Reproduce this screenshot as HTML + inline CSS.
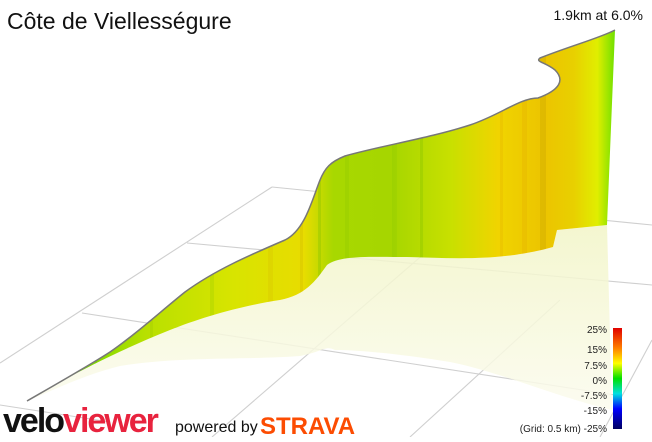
<!DOCTYPE html>
<html><head><meta charset="utf-8"><style>
body{margin:0;width:652px;height:437px;overflow:hidden;background:#fff;font-family:"Liberation Sans",sans-serif}
</style></head><body>
<svg width="652" height="437" viewBox="0 0 652 437" xmlns="http://www.w3.org/2000/svg">
<defs>
<linearGradient id="w" x1="28" y1="0" x2="615" y2="0" gradientUnits="userSpaceOnUse">
<stop offset="0" stop-color="#30d010"/>
<stop offset="0.08" stop-color="#70d800"/>
<stop offset="0.2" stop-color="#b8e000"/>
<stop offset="0.35" stop-color="#d8e400"/>
<stop offset="0.47" stop-color="#e8dc00"/>
<stop offset="0.52" stop-color="#a8d800"/>
<stop offset="0.62" stop-color="#a6d600"/>
<stop offset="0.72" stop-color="#c8e000"/>
<stop offset="0.8" stop-color="#f0d400"/>
<stop offset="0.88" stop-color="#ecc400"/>
<stop offset="0.93" stop-color="#e8d000"/>
<stop offset="0.97" stop-color="#e0ee00"/>
<stop offset="1" stop-color="#70e000"/>
</linearGradient>
<linearGradient id="r" x1="0" y1="230" x2="0" y2="410" gradientUnits="userSpaceOnUse">
<stop offset="0" stop-color="#f2f5c8"/>
<stop offset="1" stop-color="#fbfbee"/>
</linearGradient>
<linearGradient id="cb" x1="0" y1="0" x2="0" y2="1">
<stop offset="0" stop-color="#e00000"/>
<stop offset="0.2" stop-color="#ff8000"/>
<stop offset="0.35" stop-color="#ffff00"/>
<stop offset="0.5" stop-color="#00e000"/>
<stop offset="0.65" stop-color="#00e0e0"/>
<stop offset="0.8" stop-color="#0000ff"/>
<stop offset="1" stop-color="#000060"/>
</linearGradient>
<clipPath id="wc"><path id="wall" d="M27,401 C60,382 90,365 110,352 C135,335 160,312 185,292 C215,270 250,255 285,240 C305,230 312,200 320,180 C325,168 330,162 345,156 C380,146 430,138 470,125 C500,115 520,98 538,98 C560,90 565,80 555,70 C545,62 535,62 540,58 C570,46 600,38 615,30 L607,225 L557,230 L553,247 C500,262 450,258 407,257 C370,257 340,255 327,265 C315,282 305,295 280,300 C240,306 200,318 170,330 C120,350 70,375 27,401Z"/></clipPath>
</defs>
<g stroke="#cfcfcf" stroke-width="1.1" fill="none">
<line x1="0" y1="363" x2="272" y2="187"/>
<line x1="272" y1="187" x2="652" y2="225"/>
<line x1="187" y1="243" x2="652" y2="285"/>
<line x1="82" y1="313" x2="615" y2="395"/>
<line x1="0" y1="405" x2="110" y2="422"/>
<line x1="212" y1="437" x2="440" y2="240"/>
<line x1="410" y1="437" x2="560" y2="300"/>
<line x1="600" y1="437" x2="652" y2="340"/>
</g>
<path d="M27,401 C70,375 120,350 170,330 C200,318 240,306 280,300 C305,295 315,282 327,265 C340,255 370,257 407,257 C450,258 500,262 553,247 L557,230 L607,225 L612,410 C560,398 500,372 450,362 C400,354 360,350 335,350 C325,345 322,352 300,356 C250,360 180,356 120,366 C80,376 50,392 27,401Z" fill="url(#r)" opacity="0.85"/>
<use href="#wall" fill="url(#w)"/>
<g clip-path="url(#wc)" opacity="0.2">
<rect x="60" y="0" width="3" height="437" fill="#40a000"/>
<rect x="95" y="0" width="2" height="437" fill="#60b000"/>
<rect x="150" y="0" width="3" height="437" fill="#90b800"/>
<rect x="210" y="0" width="4" height="437" fill="#80c000"/>
<rect x="268" y="0" width="5" height="437" fill="#d0b000"/>
<rect x="300" y="0" width="3" height="437" fill="#c0a000"/>
<rect x="318" y="0" width="3" height="437" fill="#50b000"/>
<rect x="345" y="0" width="4" height="437" fill="#80c000"/>
<rect x="392" y="0" width="5" height="437" fill="#80c000"/>
<rect x="420" y="0" width="3" height="437" fill="#60b000"/>
<rect x="500" y="0" width="3" height="437" fill="#e0a000"/>
<rect x="522" y="0" width="5" height="437" fill="#e0a000"/>
<rect x="540" y="0" width="6" height="437" fill="#b09000"/>
</g>
<path d="M27,401 C60,382 90,365 110,352 C135,335 160,312 185,292 C215,270 250,255 285,240 C305,230 312,200 320,180 C325,168 330,162 345,156 C380,146 430,138 470,125 C500,115 520,98 538,98 C560,90 565,80 555,70 C545,62 535,62 540,58 C570,46 600,38 615,30" fill="none" stroke="#777" stroke-width="1.5"/>
<text x="7" y="29" font-size="23" fill="#111">Côte de Viellességure</text>
<text x="643" y="20" font-size="14" fill="#111" text-anchor="end">1.9km at 6.0%</text>
<rect x="613" y="328" width="9" height="101" fill="url(#cb)"/>
<g font-size="10" fill="#222" text-anchor="end">
<text x="607" y="333">25%</text><text x="607" y="353">15%</text><text x="607" y="369">7.5%</text>
<text x="607" y="384">0%</text><text x="607" y="399">-7.5%</text><text x="607" y="414">-15%</text>
<text x="607" y="432">(Grid: 0.5 km) -25%</text>
</g>
<text x="3" y="432" font-size="34" font-weight="bold" letter-spacing="-2" fill="#111">velo<tspan fill="#e8233e">viewer</tspan></text>
<text x="175" y="432" font-size="16" fill="#111">powered by</text>
<text x="260" y="434" font-size="24" font-weight="bold" fill="#fc4c02">STRAVA</text>
</svg>
</body></html>
